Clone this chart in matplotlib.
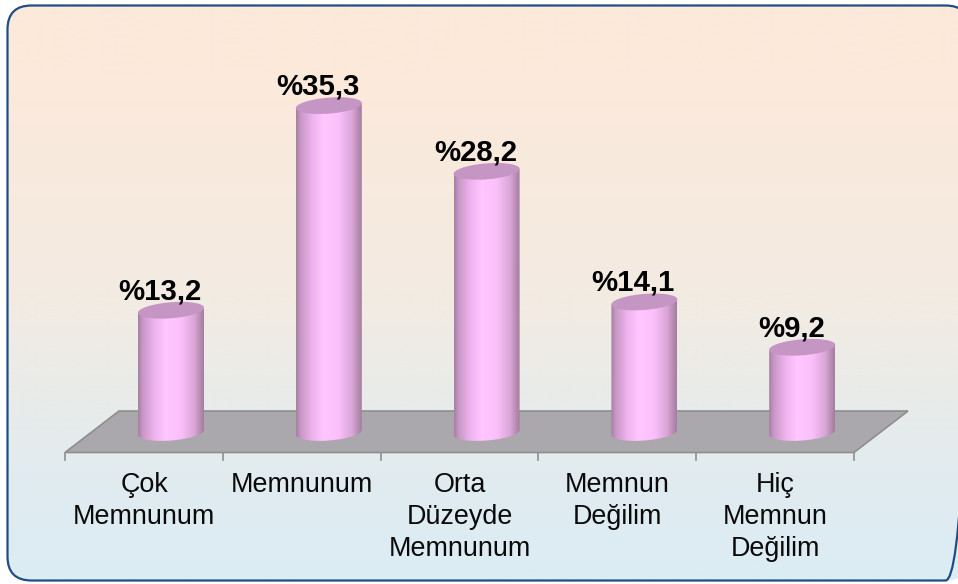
"""Satisfaction chart: pink cylinders on a grey floor, inside a rounded gradient panel."""

import matplotlib
matplotlib.use('Agg')
import matplotlib.pyplot as plt
import numpy as np
from matplotlib.colors import LinearSegmentedColormap
from matplotlib.patches import FancyBboxPatch, Polygon

# ── Data ──────────────────────────────────────────────────────────────────
categories = ['Çok\nMemnunum', 'Memnunum', 'Orta\nDüzeyde\nMemnunum',
              'Memnun\nDeğilim', 'Hiç\nMemnun\nDeğilim']
values = [13.2, 35.3, 28.2, 14.1, 9.2]
value_labels = ['%13,2', '%35,3', '%28,2', '%14,1', '%9,2']

# ── Layout, in reference pixels ───────────────────────────────────────────
W, H = 958, 584
SLOT = 157.8      # px per category
X0 = 144          # px of first category centre
BASE = 432.5      # px of value 0 at the bar centres
PER_UNIT = 9.26   # px per percentage point
SKEW = 27         # floor depth pushes bars right of the label slots
HALF_W = 33
TILT = 2.5
ELL_H = 8

C_EDGE = '#1f4e85'
C_FLOOR = '#aba8ad'
C_FLOOR_EDGE = '#8e8e8e'
C_CAP = '#c595c3'

plt.rcParams['font.family'] = ['Liberation Sans', 'DejaVu Sans']

fig = plt.figure(figsize=(W / 100, H / 100), dpi=100)
fig.patch.set_facecolor('white')

# ── Panel and floor, drawn in pixel coordinates ───────────────────────────
bg = fig.add_axes([0, 0, 1, 1])
bg.axis('off')

panel = FancyBboxPatch((7.5, 5.5), 962, 575, boxstyle='round,pad=0,rounding_size=24',
                       facecolor='none', edgecolor='none')
bg.add_patch(panel)
bg_cmap = LinearSegmentedColormap.from_list(
    'panel', [(0, '#fde9da'), (0.12, '#fce9db'), (0.5, '#f3ebe2'), (0.75, '#e5ebec'),
              (0.87, '#dfecf2'), (1, '#dcecf4')])
im = bg.imshow(np.linspace(0, 1, 256)[:, None], cmap=bg_cmap, aspect='auto',
               extent=(0, W + 20, 581, 5), origin='upper', zorder=1)
im.set_clip_path(panel)
bg.add_patch(FancyBboxPatch((7.5, 5.5), 962, 575, boxstyle='round,pad=0,rounding_size=24',
                            facecolor='none', edgecolor=C_EDGE, lw=1.6, zorder=2))

bg.add_patch(Polygon([(65, 452.5), (119, 411), (908, 411), (854, 452.5)], closed=True,
                     facecolor=C_FLOOR, edgecolor=C_FLOOR_EDGE, lw=1.2, zorder=3))
for i in range(len(categories) + 1):
    tick_x = 65 + i * SLOT
    bg.plot([tick_x, tick_x], [452.5, 460], color=C_FLOOR_EDGE, lw=1.2, zorder=3)
bg.set_xlim(0, W)
bg.set_ylim(H, 0)

# ── Chart axes: x in category index, y in percent ─────────────────────────
ax = fig.add_axes([0, 0, 1, 1])
ax.patch.set_alpha(0)
ax.axis('off')

body_cmap = LinearSegmentedColormap.from_list(
    'body', [(0, '#a87fa4'), (0.07, '#c898c6'), (0.25, '#efb3ef'), (0.42, '#ffc6ff'),
             (0.65, '#fbc0fb'), (0.85, '#dca6d9'), (0.95, '#b68bb1'), (1, '#a57da0')])

dx = SKEW / SLOT
half_w = HALF_W / SLOT
tilt = TILT / PER_UNIT
ell_h = ELL_H / PER_UNIT
t = np.linspace(0, 2 * np.pi, 121)
lower = np.linspace(np.pi, 0, 61)

for i, (v, lab) in enumerate(zip(values, value_labels)):
    cx = i + dx
    # side wall: top corners, then the front of the base ellipse
    wall_x = np.r_[cx - half_w, cx + half_w * np.cos(lower), cx + half_w]
    wall_y = np.r_[v - tilt, tilt * np.cos(lower) - ell_h * np.sin(lower), v + tilt]
    wall = Polygon(np.c_[wall_x, wall_y], closed=True, facecolor='none', edgecolor='none')
    ax.add_patch(wall)
    body = ax.imshow(np.linspace(0, 1, 128)[None, :], cmap=body_cmap, aspect='auto',
                     extent=(cx - half_w, cx + half_w, -2, v + 2), zorder=2)
    body.set_clip_path(wall)

    cap_x = cx + half_w * np.cos(t)
    cap_y = v + tilt * np.cos(t) + ell_h * np.sin(t)
    ax.add_patch(Polygon(np.c_[cap_x, cap_y], closed=True, facecolor=C_CAP,
                         edgecolor='none', zorder=3))
    ax.text(cx - 11 / SLOT, v + 11 / PER_UNIT, lab, ha='center', va='baseline',
            fontsize=21.2, fontweight='bold', color='black', zorder=4)
    ax.text(i, (BASE - 471.5) / PER_UNIT, categories[i], ha='center', va='top',
            fontsize=19.4, color='#0a0a0a', linespacing=1.32, zorder=4)

ax.set_xlim((0 - X0) / SLOT, (W - X0) / SLOT)
ax.set_ylim((BASE - H) / PER_UNIT, BASE / PER_UNIT)

fig.savefig('out.png', dpi=100)
